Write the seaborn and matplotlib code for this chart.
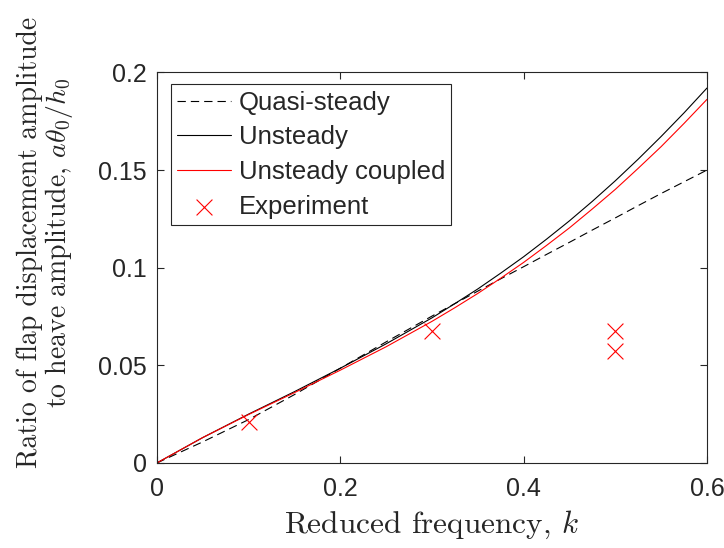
import numpy as np
import pandas as pd
import matplotlib
matplotlib.use("Agg")
import matplotlib.pyplot as plt
import seaborn as sns

# ---- data ----
k = [0.0, 0.05, 0.10, 0.15, 0.20, 0.25, 0.30, 0.325, 0.35, 0.375, 0.40, 0.425,
     0.45, 0.475, 0.50, 0.525, 0.55, 0.575, 0.60]
quasi_steady = [0.0, 0.0108, 0.0222, 0.0350, 0.0485, 0.0620, 0.0752, 0.0816,
                0.0880, 0.0943, 0.1005, 0.1068, 0.1130, 0.1193, 0.1255, 0.1318,
                0.1380, 0.1440, 0.1500]
unsteady = [0.0, 0.0130, 0.0250, 0.0365, 0.0485, 0.0610, 0.0743, 0.0816,
            0.0891, 0.0972, 0.1056, 0.1146, 0.1240, 0.1340, 0.1445, 0.1556,
            0.1672, 0.1793, 0.1920]
unsteady_coupled = [0.0, 0.0130, 0.0248, 0.0360, 0.0475, 0.0595, 0.0725, 0.0795,
                    0.0868, 0.0946, 0.1027, 0.1114, 0.1204, 0.1301, 0.1401, 0.1509,
                    0.1620, 0.1739, 0.1862]
exp_k = [0.1, 0.3, 0.5, 0.5]
exp_ratio = [0.0210, 0.0678, 0.0674, 0.0571]

x_ticks = [0, 0.2, 0.4, 0.6]
x_ticklabels = ["0", "0.2", "0.4", "0.6"]
y_ticks = [0, 0.05, 0.1, 0.15, 0.2]
y_ticklabels = ["0", "0.05", "0.1", "0.15", "0.2"]

curves = pd.DataFrame({"k": k, "Quasi-steady": quasi_steady,
                       "Unsteady": unsteady, "Unsteady coupled": unsteady_coupled})
exp_df = pd.DataFrame({"k": exp_k, "ratio": exp_ratio})

sns.set_style("ticks")
plt.rcParams["font.family"] = ["Liberation Sans", "DejaVu Sans"]
plt.rcParams["mathtext.fontset"] = "cm"
plt.rcParams["axes.formatter.use_mathtext"] = True

fig = plt.figure(figsize=(7.24, 5.48), dpi=100)
W, H = 724, 548
left, right, top, bottom = 156.8, 707.0, 72.4, 463.0
ax = fig.add_axes([left / W, (H - bottom) / H, (right - left) / W, (bottom - top) / H])

sns.lineplot(data=curves, x="k", y="Quasi-steady", ax=ax, color="black", lw=0.8,
             label="Quasi-steady", linestyle=(0, (7.5, 4.5)))
sns.lineplot(data=curves, x="k", y="Unsteady", ax=ax, color="black", lw=0.8,
             label="Unsteady")
sns.lineplot(data=curves, x="k", y="Unsteady coupled", ax=ax, color="#ff0000",
             lw=0.8, label="Unsteady coupled")
sns.scatterplot(data=exp_df, x="k", y="ratio", ax=ax, marker="x", color="#ff0000",
                s=130, linewidth=0.8, label="Experiment", zorder=5)

ax.set_xlim(0, 0.6)
ax.set_ylim(0, 0.2)
ax.set_xticks(x_ticks)
ax.set_xticklabels(x_ticklabels)
ax.set_yticks(y_ticks)
ax.set_yticklabels(y_ticklabels)
ax.tick_params(axis="both", which="both", direction="in", length=5, width=0.8,
               labelsize=18, colors="#262626", top=True, right=True)
ax.tick_params(axis="x", pad=10)
ax.tick_params(axis="y", pad=7)
for s in ax.spines.values():
    s.set_visible(True)
    s.set_linewidth(0.8)
    s.set_color("#262626")

ax.set_xlabel("Reduced frequency, $k$", fontsize=22.5, family="cmr10", color="#262626")
ax.set_ylabel("Ratio of flap displacement amplitude\nto heave amplitude, $a\\theta_0/h_0$",
              fontsize=20, family="cmr10", color="#262626", linespacing=1.0)
ax.xaxis.set_label_coords(0.5, -0.118)
ax.yaxis.set_label_coords(-0.148, 0.565)

leg = ax.legend(loc="upper left", bbox_to_anchor=(0.025, 0.97), fontsize=18.5,
                frameon=True, fancybox=False, framealpha=1, edgecolor="#262626",
                handlelength=2.1, handletextpad=0.3, borderpad=0.25,
                labelspacing=0.42, borderaxespad=0)
leg.get_frame().set_linewidth(0.8)

fig.savefig("out.png", dpi=100)
